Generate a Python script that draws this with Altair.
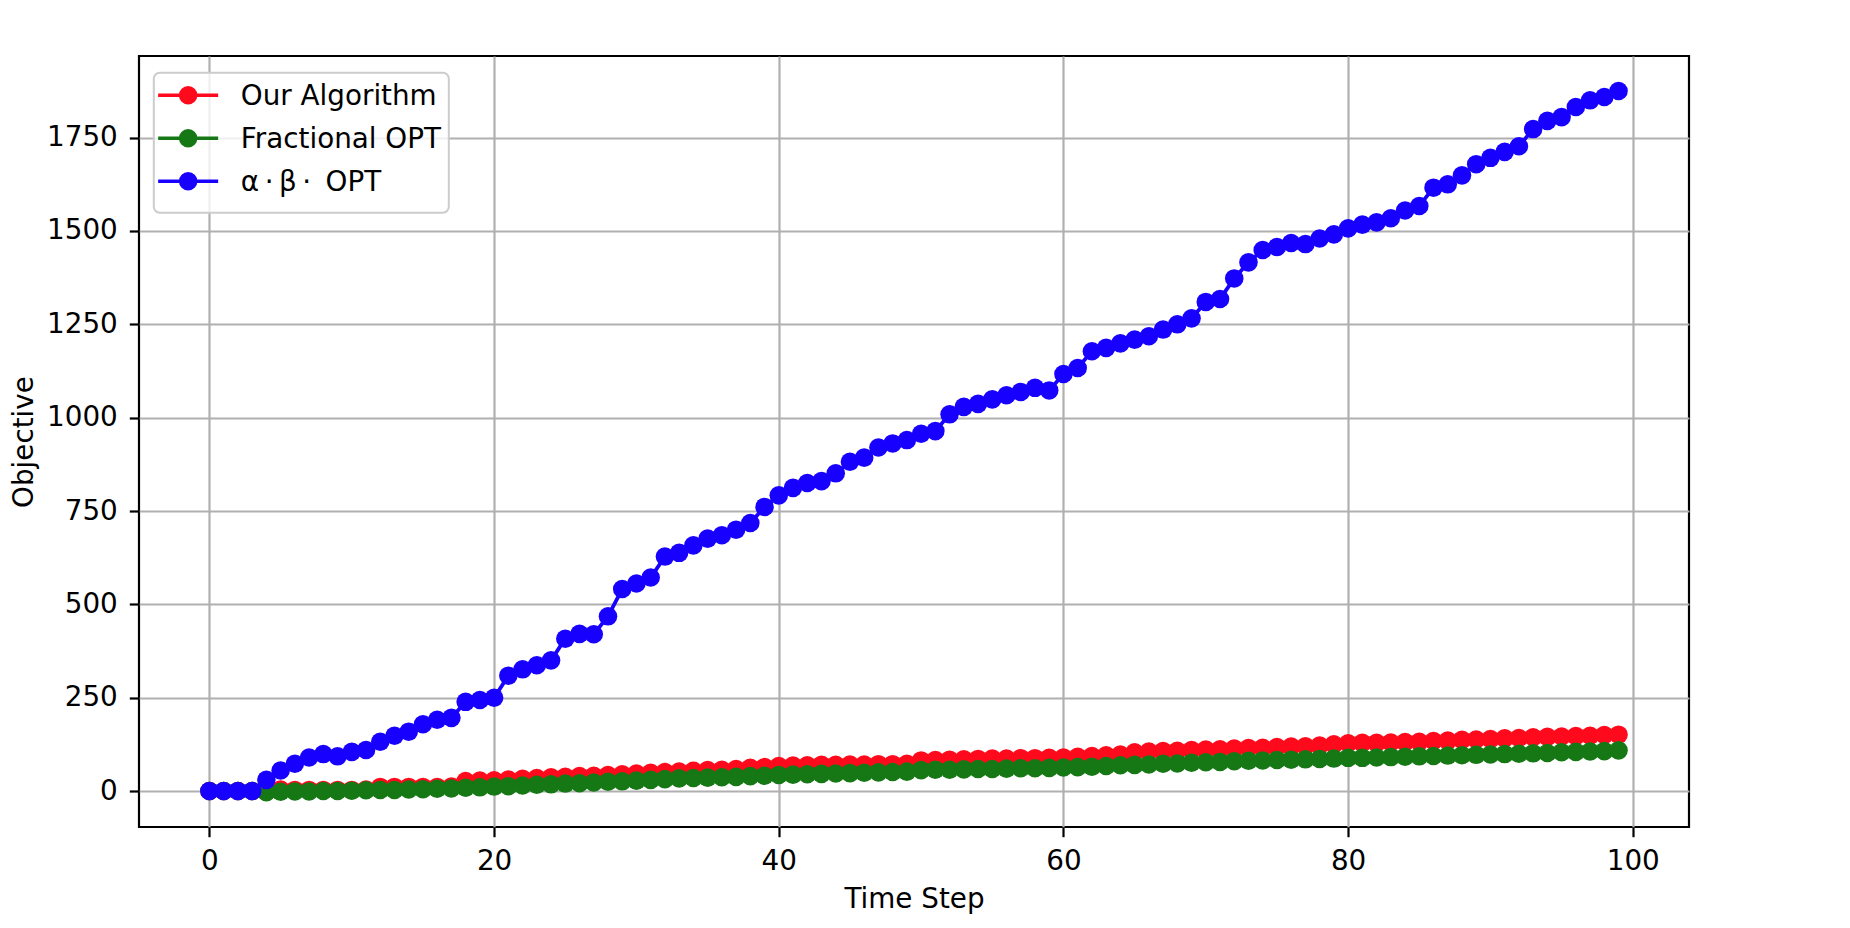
import altair as alt
import pandas as pd

# ---- data ----
time_steps = list(range(100))

our_algorithm = [
    0, 0, 0, 0, -2, 4, 3, 3, 3, 3,
    3, 4, 11, 11, 11, 11, 11, 12, 27, 28,
    29, 31, 33, 35, 37, 38, 40, 41, 43, 45,
    47, 49, 51, 52, 54, 56, 57, 59, 62, 64,
    67, 68, 69, 70, 70, 71, 71, 72, 72, 73,
    82, 83, 84, 85, 86, 87, 87, 88, 88, 89,
    90, 92, 94, 96, 98, 104, 106, 107, 108, 110,
    111, 112, 114, 115, 116, 118, 119, 120, 122, 125,
    128, 129, 129, 130, 131, 132, 134, 135, 137, 138,
    139, 141, 142, 144, 145, 146, 147, 148, 150, 151,
]

fractional_opt = [
    0, 0, 0, 0, -3, -2, -1, -1, 0, 0,
    1, 2, 3, 3, 4, 5, 6, 7, 9, 10,
    12, 13, 15, 17, 18, 20, 21, 23, 25, 26,
    28, 30, 32, 34, 35, 36, 37, 38, 40, 41,
    43, 44, 45, 46, 47, 48, 49, 50, 51, 52,
    56, 57, 57, 58, 59, 59, 60, 61, 61, 62,
    63, 64, 65, 67, 69, 70, 71, 73, 74, 76,
    77, 78, 80, 81, 82, 83, 84, 85, 86, 87,
    89, 89, 90, 91, 92, 93, 94, 95, 96, 97,
    98, 99, 100, 101, 102, 104, 105, 106, 107, 109,
]

alpha_beta_opt = [
    0, 0, 0, 0, 30, 55, 73, 90, 99, 93,
    105, 110, 132, 148, 159, 179, 191, 196, 239, 244,
    250, 309, 326, 337, 350, 408, 421, 420, 468, 541,
    556, 572, 628, 638, 658, 676, 685, 700, 718, 761,
    792, 812, 825, 830, 851, 882, 893, 920, 931, 940,
    957, 964, 1009, 1029, 1037, 1049, 1060, 1069, 1080, 1073,
    1117, 1133, 1178, 1187, 1199, 1209, 1218, 1236, 1250, 1266,
    1310, 1318, 1373, 1416, 1449, 1457, 1468, 1465, 1480, 1491,
    1507, 1517, 1523, 1534, 1555, 1567, 1616, 1625, 1649, 1679,
    1696, 1712, 1727, 1773, 1795, 1805, 1832, 1850, 1859, 1875,
]

series_names = ["Our Algorithm", "Fractional OPT", "\u03b1\u2009\u00b7\u2009\u03b2\u2009\u00b7\u2009 OPT"]
series_colors = ["#ff0a1c", "#157815", "#1800ff"]
x_ticks = [0, 20, 40, 60, 80, 100]
y_ticks = [0, 250, 500, 750, 1000, 1250, 1500, 1750]

rows = []
for name, vals in zip(series_names, [our_algorithm, fractional_opt, alpha_beta_opt]):
    for t, v in zip(time_steps, vals):
        rows.append({"step": t, "objective": v, "series": name})
df = pd.DataFrame(rows)

FONT = "DejaVu Sans"
FS = 27.8

# legend symbol: a line with a dot in the middle
sym_path = "M-1.31,-0.1L2.69,-0.1M1.19,-0.1A0.5,0.5,0,1,1,0.19,-0.1A0.5,0.5,0,1,1,1.19,-0.1Z"

color = alt.Color(
    "series:N",
    scale=alt.Scale(domain=series_names, range=series_colors),
    legend=alt.Legend(title=" ", orient="none", legendX=14.8, legendY=16.7),
)

x_enc = alt.X(
    "step:Q",
    scale=alt.Scale(domain=[-4.95, 103.95], nice=False, zero=False),
    axis=alt.Axis(
        values=x_ticks, title="Time Step", titleY=80, titleBaseline="alphabetic",
        labelPadding=11, labelFlush=False, labelOverlap=False,
    ),
)
y_enc = alt.Y(
    "objective:Q",
    scale=alt.Scale(domain=[-96.3, 1968.7], nice=False, zero=False),
    axis=alt.Axis(
        values=y_ticks, format="d", title="Objective", titleX=-107, titleAngle=270,
        titleBaseline="alphabetic", labelPadding=12, labelFlush=False, labelOverlap=False,
    ),
)

layers = []
for name in series_names:
    base = alt.Chart(df).transform_filter(alt.datum.series == name).encode(
        x=x_enc, y=y_enc, color=color
    )
    layers.append(base.mark_line(strokeWidth=3.8))
    layers.append(base.mark_circle(size=345, opacity=1))

chart = (
    alt.layer(*layers)
    .properties(
        width=1550,
        height=771,
        padding={"left": 131, "top": 48, "right": 30, "bottom": 100},
        autosize=alt.AutoSizeParams(type="none"),
        background="white",
    )
    .configure_view(stroke="black", strokeWidth=2.2)
    .configure_axis(
        grid=True, gridColor="#b0b0b0", gridWidth=2.2, domain=False,
        ticks=True, tickColor="black", tickSize=9.7, tickWidth=2.2,
        labelFont=FONT, labelFontSize=FS, labelColor="black",
        titleFont=FONT, titleFontSize=FS, titleColor="black", titleFontWeight="normal",
    )
    .configure_legend(
        symbolType=sym_path, symbolSize=900, symbolStrokeWidth=3.5, symbolOpacity=1,
        labelFont=FONT, labelFontSize=FS, labelColor="black", labelOffset=46, labelLimit=0,
        rowPadding=12, padding=7,
        titleOrient="bottom", titleFontSize=6, titlePadding=3,
        fillColor="rgba(255,255,255,0.8)", strokeColor="#cccccc", strokeWidth=2, cornerRadius=6,
    )
)

chart.save("out.html", embed_options={"renderer": "svg", "actions": False})
